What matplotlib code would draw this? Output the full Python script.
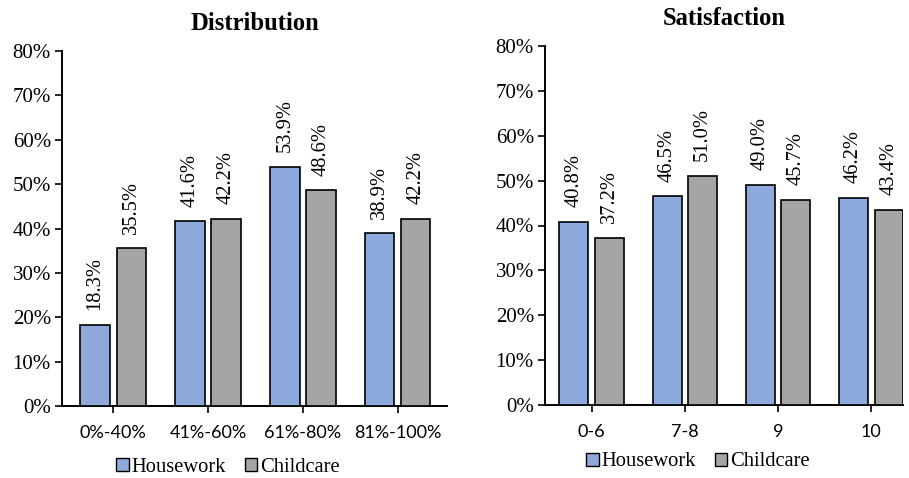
import matplotlib
matplotlib.use("Agg")
import matplotlib.pyplot as plt
from matplotlib.patches import Patch
import numpy as np

# Data
series_names = ["Housework", "Childcare"]
series_colors = ["#8EA9DB", "#A5A5A5"]

dist_categories = ["0%-40%", "41%-60%", "61%-80%", "81%-100%"]
dist_housework = [18.3, 41.6, 53.9, 38.9]
dist_childcare = [35.5, 42.2, 48.6, 42.2]

sat_categories = ["0-6", "7-8", "9", "10"]
sat_housework = [40.8, 46.5, 49.0, 46.2]
sat_childcare = [37.2, 51.0, 45.7, 43.4]

yticks = [0, 10, 20, 30, 40, 50, 60, 70, 80]

SERIF = "Liberation Serif"
SANS = "Lato"

fig = plt.figure(figsize=(9.09, 4.78), dpi=100)


def panel(rect, title, cats, hw, cc, xlim, legend_xy):
    ax = fig.add_axes(rect)
    x = np.arange(len(cats))
    width = 0.31
    off = 0.19
    for vals, color, sign in ((hw, series_colors[0], -1), (cc, series_colors[1], 1)):
        ax.bar(x + sign * off, vals, width, color=color, edgecolor="black",
               linewidth=1.2, zorder=3)
        for xi, v in zip(x, vals):
            ax.text(xi + sign * off, v + 3.3, f"{v:.1f}%", rotation=90,
                    ha="center", va="bottom", fontsize=14.8, family=SERIF)
    ax.set_ylim(0, 80)
    ax.set_xlim(*xlim)
    ax.set_yticks(yticks)
    ax.set_yticklabels([f"{t}%" for t in yticks], fontsize=15, family=SERIF)
    ax.set_xticks(x)
    ax.set_xticklabels(cats, fontsize=13, family=SANS)
    ax.tick_params(axis="y", direction="out", length=5, width=1.2, pad=3)
    ax.tick_params(axis="x", direction="out", length=5, width=1.2, pad=9)
    for s in ("top", "right"):
        ax.spines[s].set_visible(False)
    for s in ("left", "bottom"):
        ax.spines[s].set_linewidth(1.4)
    ax.set_title(title, fontsize=17.7, fontweight="bold", family=SERIF, pad=15)
    handles = [Patch(facecolor=c, edgecolor="black", linewidth=1.0) for c in series_colors]
    fig.legend(handles, series_names, loc="center", bbox_to_anchor=legend_xy,
               ncol=2, frameon=False, prop={"family": SERIF, "size": 14.8},
               handlelength=0.6, handleheight=0.6, handletextpad=0.15,
               columnspacing=0.9)
    return ax


panel([62 / 909, 1 - 406 / 478, (447 - 62) / 909, (406 - 51) / 478],
      "Distribution", dist_categories, dist_housework, dist_childcare,
      (-0.54, 3.52), (228 / 909, 1 - 467 / 478))
panel([545 / 909, 1 - 405 / 478, (903 - 545) / 909, (405 - 46) / 478],
      "Satisfaction", sat_categories, sat_housework, sat_childcare,
      (-0.5, 3.34), (698 / 909, 1 - 462 / 478))

fig.savefig("out.png", dpi=100)
